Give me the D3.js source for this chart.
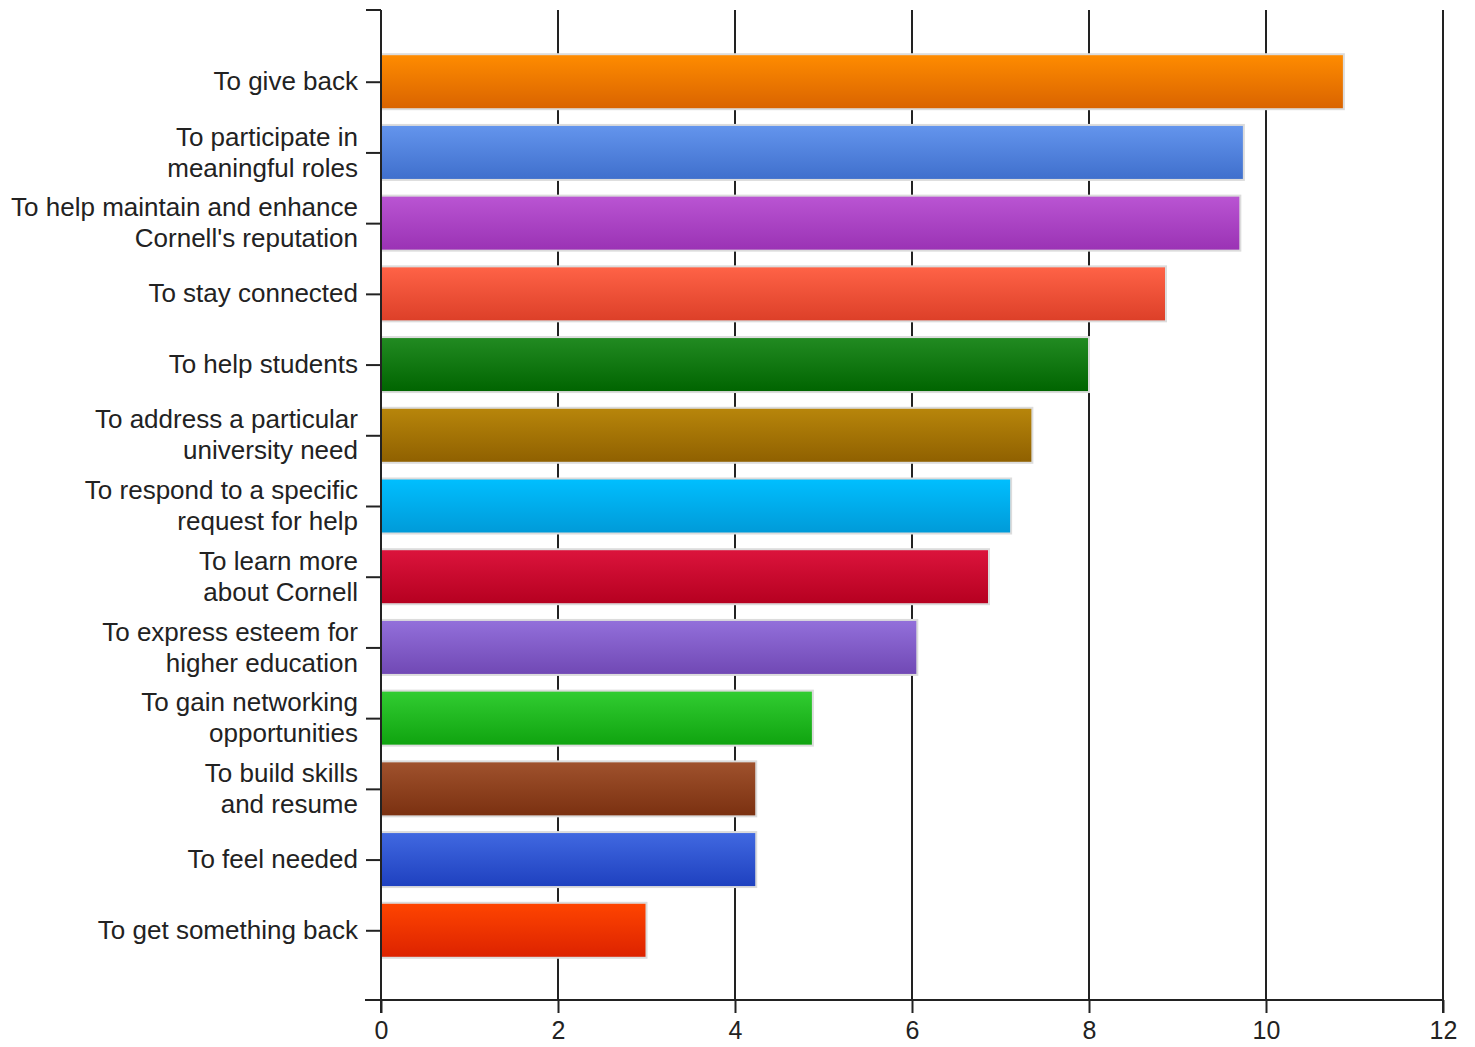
<!DOCTYPE html>
<html>
<head>
<meta charset="utf-8">
<script src="https://cdn.jsdelivr.net/npm/d3@7"></script>
<style>
  html, body { margin: 0; padding: 0; background: #fff; }
  svg { display: block; }
</style>
</head>
<body>
<svg id="chart" width="1475" height="1047"></svg>
<script>
const categories = [
  ["To give back"],
  ["To participate in", "meaningful roles"],
  ["To help maintain and enhance", "Cornell's reputation"],
  ["To stay connected"],
  ["To help students"],
  ["To address a particular", "university need"],
  ["To respond to a specific", "request for help"],
  ["To learn more", "about Cornell"],
  ["To express esteem for", "higher education"],
  ["To gain networking", "opportunities"],
  ["To build skills", "and resume"],
  ["To feel needed"],
  ["To get something back"]
];
const values = [10.88, 9.75, 9.71, 8.87, 8.0, 7.36, 7.12, 6.87, 6.06, 4.88, 4.24, 4.24, 3.0];
const topColors = ["#ff8c00", "#6495ed", "#ba55d3", "#ff6347", "#228b22", "#b8860b", "#00bfff", "#dc143c", "#9370db", "#32cd32", "#a0522d", "#4169e1", "#ff4500"];
const bottomColors = ["#d96300", "#3f6fcc", "#9a32b4", "#dc3f28", "#006400", "#8f6000", "#009ad8", "#b50020", "#7048b4", "#0fa30f", "#7a3010", "#1e40bf", "#dc2200"];
const xTicks = [0, 2, 4, 6, 8, 10, 12];

(function () {
const svg = d3.select("#chart");
const mLeft = 381, mRight = 1443, mTop = 10, mBottom = 1000;
const x = d3.scaleLinear().domain([0, 12]).range([mLeft, mRight]);
const idx = d3.range(categories.length);
const y = d3.scalePoint().domain(idx).range([mTop + 1, mBottom + 1]).padding(1);
const barH = 55;
const font = "'Liberation Sans', Arial, sans-serif";

const defs = svg.append("defs");
idx.forEach(i => {
  const g = defs.append("linearGradient").attr("id", "g" + i)
    .attr("x1", 0).attr("y1", 0).attr("x2", 0).attr("y2", 1);
  g.append("stop").attr("offset", "0%").attr("stop-color", topColors[i]);
  g.append("stop").attr("offset", "100%").attr("stop-color", bottomColors[i]);
});

// grid lines
svg.append("g").selectAll("line").data(xTicks.filter(d => d > 0)).join("line")
  .attr("x1", d => x(d)).attr("x2", d => x(d))
  .attr("y1", mTop).attr("y2", d => d === 12 ? mBottom + 13 : mBottom)
  .attr("stroke", "#222").attr("stroke-width", 2);

// bars
svg.append("g").selectAll("rect").data(idx).join("rect")
  .attr("x", mLeft)
  .attr("y", i => y(i) - barH / 2)
  .attr("width", i => x(values[i]) - mLeft)
  .attr("height", barH)
  .attr("fill", i => "url(#g" + i + ")")
  .attr("stroke", "#dcdcdc").attr("stroke-width", 2);

// x axis
const xAxis = svg.append("g").attr("transform", `translate(0,${mBottom})`)
  .call(d3.axisBottom(x).tickValues(xTicks).tickSize(13).tickPadding(8));
xAxis.select(".domain").remove();
xAxis.append("line").attr("x1", 365).attr("x2", mRight).attr("y1", 0).attr("y2", 0)
  .attr("stroke", "#222").attr("stroke-width", 2);
xAxis.selectAll(".tick line").attr("stroke", "#222").attr("stroke-width", 2);
xAxis.selectAll(".tick text").attr("font-family", font).attr("font-size", 25).attr("fill", "#222");

// y axis
const yAxis = svg.append("g").attr("transform", `translate(${mLeft},0)`)
  .call(d3.axisLeft(y).tickSize(15).tickPadding(8).tickFormat(""));
yAxis.select(".domain").remove();
yAxis.append("line").attr("x1", -15).attr("x2", 0).attr("y1", mTop).attr("y2", mTop)
  .attr("stroke", "#222").attr("stroke-width", 2);
yAxis.append("line").attr("x1", 0).attr("x2", 0).attr("y1", mTop).attr("y2", mBottom + 13)
  .attr("stroke", "#222").attr("stroke-width", 2);
yAxis.selectAll(".tick line").attr("stroke", "#222").attr("stroke-width", 2);
yAxis.selectAll(".tick").each(function(i) {
  const lines = categories[i];
  const t = d3.select(this).append("text")
    .attr("x", -23).attr("text-anchor", "end")
    .attr("font-family", font).attr("font-size", 26).attr("fill", "#222");
  lines.forEach((s, k) => {
    const off = (k - (lines.length - 1) / 2) * 31;
    t.append("tspan").attr("x", -23).attr("y", off - 1).attr("dy", "0.35em").text(s);
  });
});
})();
</script>
</body>
</html>
